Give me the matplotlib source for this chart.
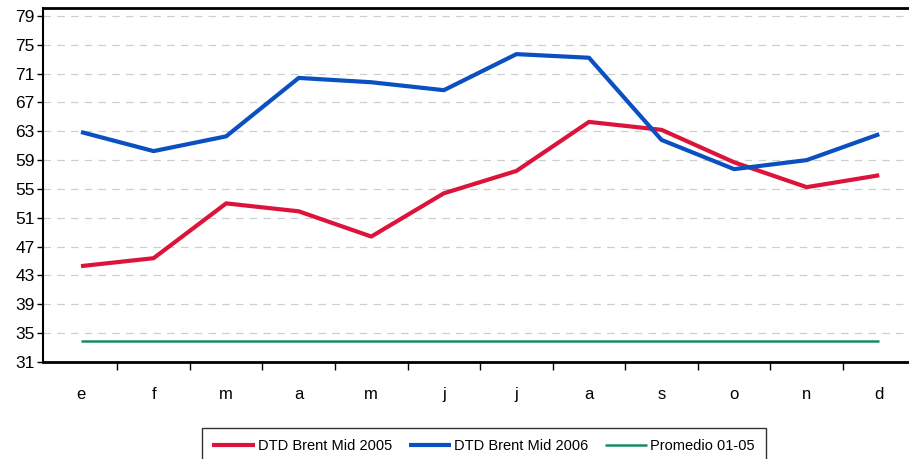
import numpy as np
import matplotlib.pyplot as plt

months = ["e", "f", "m", "a", "m", "j", "j", "a", "s", "o", "n", "d"]
brent_2005 = [44.3, 45.4, 53.0, 51.9, 48.4, 54.4, 57.5, 64.3, 63.2, 58.7, 55.25, 56.9]
brent_2006 = [62.9, 60.25, 62.3, 70.4, 69.8, 68.7, 73.7, 73.2, 61.8, 57.75, 59.0, 62.6]
promedio = [33.9] * 12
yticks = [31, 35, 39, 43, 47, 51, 55, 59, 63, 67, 71, 75, 79]

plt.rcParams["font.family"] = ["Liberation Sans", "DejaVu Sans"]

fig = plt.figure(figsize=(9.09, 4.59), dpi=100)
ax = fig.add_axes([0.0473, 0.2113, 0.9527, 0.7713])

x = np.arange(len(months))
ax.plot(x, brent_2005, color="#dc143c", lw=3, label="DTD Brent Mid 2005", solid_capstyle="butt")
ax.plot(x, brent_2006, color="#0a50c0", lw=3, label="DTD Brent Mid 2006", solid_capstyle="butt")
ax.plot(x, promedio, color="#1a8a64", lw=1.8, label="Promedio 01-05", solid_capstyle="butt")

ax.set_xlim(-0.524, 11.41)
ax.set_ylim(31, 80.1)
ax.set_yticks(yticks)
ax.set_xticks(x)
ax.set_xticklabels(months)
ax.set_xticks(np.arange(0.5, 11.5, 1), minor=True)
ax.tick_params(axis="x", which="major", length=0, pad=18, labelsize=12)
ax.tick_params(axis="x", which="minor", length=6, width=1, direction="out")
ax.tick_params(axis="y", length=4, width=1, labelsize=12.5, pad=2)

# dashed grid lines, none on the bottom axis
for v in yticks[1:]:
    ax.axhline(v, color="#c8d0d0", lw=0.9, ls=(0, (6, 5)), zorder=0)

ax.spines["right"].set_visible(False)
for s in ["top", "bottom"]:
    ax.spines[s].set_linewidth(2)
ax.spines["left"].set_linewidth(1.5)

leg = fig.legend(loc="upper center", bbox_to_anchor=(0.532, 0.083),
                 ncol=3, frameon=True, fancybox=False, fontsize=10.5,
                 handlelength=2.9, handletextpad=0.2, columnspacing=1.15,
                 borderpad=0.75)
leg.get_frame().set_edgecolor("black")
leg.get_frame().set_linewidth(1)

fig.savefig("out.png", dpi=100)
